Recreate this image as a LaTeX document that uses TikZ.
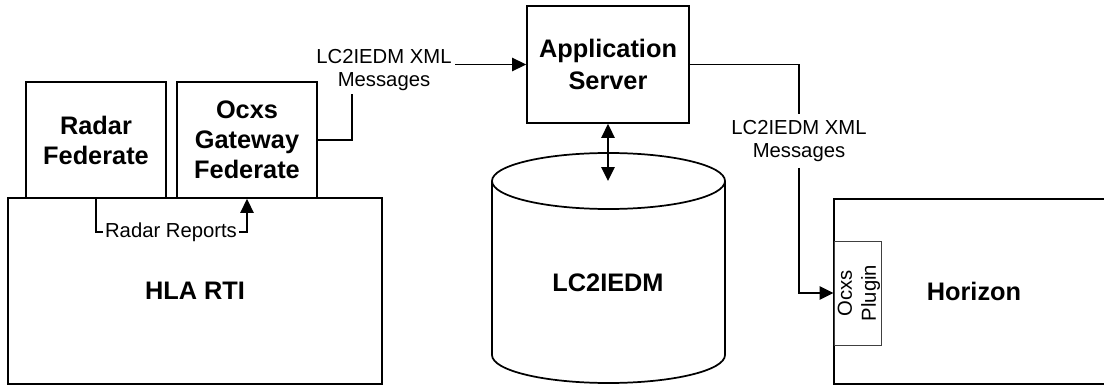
\documentclass[tikz,border=0pt]{standalone}
\usepackage{fontspec}
\setmainfont{Liberation Sans}
\usetikzlibrary{arrows.meta}
\begin{document}
\begin{tikzpicture}[x=0.75pt,y=-0.75pt,line width=1.3pt,
    >={Triangle[length=10.5pt,width=10pt]},
    bold/.style={align=center,font=\fontsize{19}{22.5}\selectfont\bfseries},
    box/.style={bold,draw,inner sep=0pt},
    msg/.style={align=center,font=\fontsize{15.2}{17.3}\selectfont,inner sep=2pt}]
  \useasboundingbox (0,0) rectangle (1104,385);
  \draw
    (195,291) node[box,minimum width=280.5pt,minimum height=139.5pt] (rti){HLA RTI}
    (96,140) node[box,minimum width=105pt,minimum height=87pt] (radar){Radar\\Federate}
    (247,140) node[box,minimum width=105pt,minimum height=87pt] (gateway){Ocxs\\Gateway\\Federate}
    (608,64.5) node[box,minimum width=121.5pt,minimum height=87.75pt,
      font=\fontsize{19}{24}\selectfont\bfseries] (appsrv){Application\\Server}
    (974,291.5) node[box,minimum width=210pt,minimum height=138.75pt] (horizon){Horizon}
    (857.5,293) node[draw=black!75,line width=0.7pt,minimum width=35.25pt,minimum height=78pt] (plugin){}
    (859,293) node[msg,rotate=90,font=\fontsize{15.2}{18}\selectfont] (plugtxt){Ocxs\\Plugin}
    (171,232) node[msg,inner sep=1pt] (rr){Radar Reports}
    (384,70) node[msg] (msg1){LC2IEDM XML\\Messages}
    (799,141) node[msg,inner ysep=4pt] (msg2){LC2IEDM XML\\Messages};
  \draw (608.5,181) ellipse [x radius=116.5,y radius=28];
  \draw (492,181) -- (492,355) arc [start angle=180,end angle=0,x radius=116.5,y radius=28] -- (725,181);
  \node[bold] (db) at (608,283) {LC2IEDM};
  \coordinate (dbtop) at (608,181);
  \begin{scope}
    \draw (radar.south) |- (rr.west);
    \draw[->] (rr.east) -| (gateway.south);
    \draw (gateway.east) -| ([xshift=-24pt]msg1.south);
    \draw[->] (msg1.east |- appsrv.west) -- (appsrv.west);
    \draw[<->] (appsrv.south) -- (dbtop);
    \draw (appsrv.east) -| (msg2.north);
    \draw[->] (msg2.south) |- (plugin.west);
  \end{scope}
\end{tikzpicture}
\end{document}
